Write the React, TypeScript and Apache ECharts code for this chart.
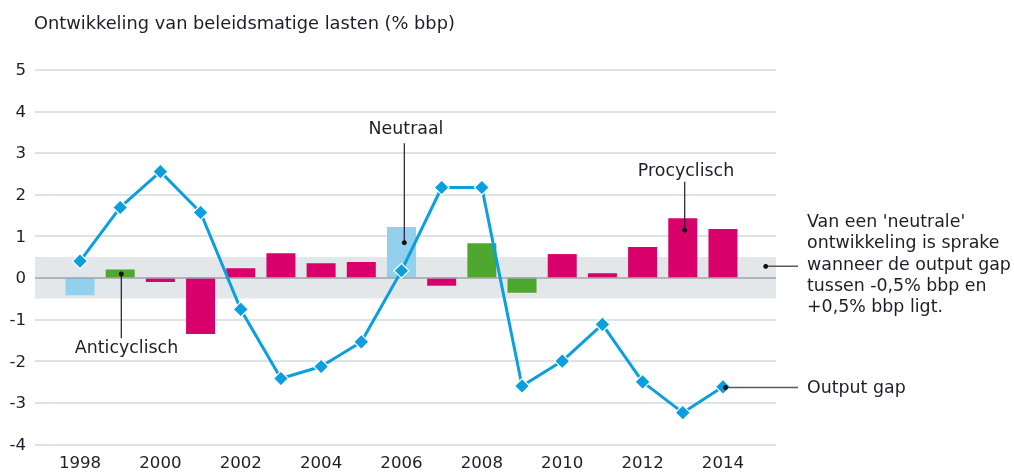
import React, { useEffect, useRef } from "react";
import * as echarts from "echarts";

const years = [1998, 1999, 2000, 2001, 2002, 2003, 2004, 2005, 2006, 2007, 2008, 2009, 2010, 2011, 2012, 2013, 2014];
const lastenValues = [-0.42, 0.2, -0.1, -1.35, 0.23, 0.59, 0.35, 0.38, 1.22, -0.19, 0.83, -0.36, 0.57, 0.11, 0.74, 1.43, 1.17];
const lastenType = ["neutraal", "anti", "pro", "pro", "pro", "pro", "pro", "pro", "neutraal", "pro", "anti", "anti", "pro", "pro", "pro", "pro", "pro"];
const outputGap = [0.4, 1.69, 2.55, 1.57, -0.76, -2.42, -2.13, -1.54, 0.17, 2.17, 2.17, -2.6, -2.0, -1.12, -2.5, -3.24, -2.62];
const xTickLabels = [1998, 2000, 2002, 2004, 2006, 2008, 2010, 2012, 2014];
const typeColors: Record<string, string> = { neutraal: "#93d0ee", anti: "#4ea72e", pro: "#d9006c" };

const FONT = "DejaVu Sans";
const TXT = "#1d1d2b";
const LEAD = "#555a60";
const TEXT_SIZE = 17.4;
const TITLE_SIZE = 17.8;
const TICK_SIZE = 16.6;

export default function App() {
  const ref = useRef<HTMLDivElement>(null);
  useEffect(() => {
    if (!ref.current) return;
    const chart = echarts.init(ref.current, null, { renderer: "svg" });
    const textStyle = (extra: any) => ({ fill: TXT, font: `${TEXT_SIZE}px '${FONT}'`, ...extra });
    chart.setOption({
      animation: false,
      textStyle: { fontFamily: FONT },
      grid: { left: 35, right: 238, top: 69.7, bottom: 27.7 },
      xAxis: {
        type: "value",
        min: 1996.88,
        max: 2015.32,
        axisLine: { show: false },
        axisTick: { show: false },
        splitLine: { show: false },
        axisLabel: {
          customValues: xTickLabels,
          formatter: (v: number) => String(v),
          color: TXT,
          fontSize: TICK_SIZE,
          fontFamily: FONT,
          margin: 10,
        },
      },
      yAxis: {
        type: "value",
        min: -4,
        max: 5,
        interval: 1,
        axisLine: { show: false },
        axisTick: { show: false },
        splitLine: { lineStyle: { color: "#d3d8dc", width: 1.5 } },
        axisLabel: { color: TXT, fontSize: TICK_SIZE, fontFamily: FONT, margin: 9 },
      },
      series: [
        {
          type: "bar",
          barWidth: 29,
          z: 2,
          data: years.map((y, i) => ({
            value: [y, lastenValues[i]],
            itemStyle: { color: typeColors[lastenType[i]] },
          })),
          markArea: {
            silent: true,
            itemStyle: { color: "#e3e7ea" },
            data: [[{ yAxis: -0.5 }, { yAxis: 0.5 }]],
            z: 1,
          },
          markLine: {
            silent: true,
            symbol: "none",
            label: { show: false },
            lineStyle: { color: "#9ea4a9", width: 1.5, type: "solid" },
            data: [{ yAxis: 0 }],
          },
        },
        {
          type: "line",
          z: 5,
          data: years.map((y, i) => [y, outputGap[i]]),
          lineStyle: { color: "#0b9fe0", width: 3 },
          symbol: "diamond",
          symbolSize: 15,
          itemStyle: { color: "#0b9fe0", borderColor: "#ffffff", borderWidth: 1.2 },
        },
      ],
      graphic: [
        { type: "text", x: 34, y: 22, style: { fill: TXT, font: `${TITLE_SIZE}px '${FONT}'`, text: "Ontwikkeling van beleidsmatige lasten (% bbp)", textVerticalAlign: "middle" } },
        // Anticyclisch
        { type: "line", shape: { x1: 121.3, y1: 274, x2: 121.3, y2: 338.3 }, style: { stroke: "#1d1d2b", lineWidth: 1.2 }, z: 10 },
        { type: "circle", shape: { cx: 121.3, cy: 274, r: 2.5 }, style: { fill: "#111" }, z: 10 },
        { type: "text", x: 126.5, y: 346.7, style: textStyle({ text: "Anticyclisch", textAlign: "center", textVerticalAlign: "middle" }), z: 10 },
        // Neutraal
        { type: "line", shape: { x1: 404.3, y1: 143.3, x2: 404.3, y2: 242.7 }, style: { stroke: "#1d1d2b", lineWidth: 1.2 }, z: 10 },
        { type: "circle", shape: { cx: 404.3, cy: 242.7, r: 2.5 }, style: { fill: "#111" }, z: 10 },
        { type: "text", x: 406, y: 128.3, style: textStyle({ text: "Neutraal", textAlign: "center", textVerticalAlign: "middle" }), z: 10 },
        // Procyclisch
        { type: "line", shape: { x1: 684.7, y1: 181.7, x2: 684.7, y2: 230.3 }, style: { stroke: "#1d1d2b", lineWidth: 1.2 }, z: 10 },
        { type: "circle", shape: { cx: 684.7, cy: 230.3, r: 2.5 }, style: { fill: "#111" }, z: 10 },
        { type: "text", x: 686, y: 170, style: textStyle({ text: "Procyclisch", textAlign: "center", textVerticalAlign: "middle" }), z: 10 },
        // Neutral zone note
        { type: "line", shape: { x1: 765.7, y1: 266.3, x2: 798, y2: 266.3 }, style: { stroke: LEAD, lineWidth: 1.5 }, z: 10 },
        { type: "circle", shape: { cx: 765.7, cy: 266.3, r: 2.5 }, style: { fill: "#111" }, z: 10 },
        {
          type: "text",
          x: 807,
          y: 210.5,
          style: textStyle({
            text: "Van een 'neutrale'\nontwikkeling is sprake\nwanneer de output gap\ntussen -0,5% bbp en\n+0,5% bbp ligt.",
            lineHeight: 21.3,
            textVerticalAlign: "top",
          }),
          z: 10,
        },
        // Output gap
        { type: "line", shape: { x1: 726, y1: 387.5, x2: 798, y2: 387.5 }, style: { stroke: LEAD, lineWidth: 1.5 }, z: 10 },
        { type: "circle", shape: { cx: 725.5, cy: 387.5, r: 2.5 }, style: { fill: "#111" }, z: 11 },
        { type: "text", x: 807, y: 387.3, style: textStyle({ text: "Output gap", textVerticalAlign: "middle" }), z: 10 },
      ],
    });
    return () => chart.dispose();
  }, []);
  return <div ref={ref} style={{ position: "fixed", left: 0, top: 0, width: 1014, height: 472 }} />;
}
